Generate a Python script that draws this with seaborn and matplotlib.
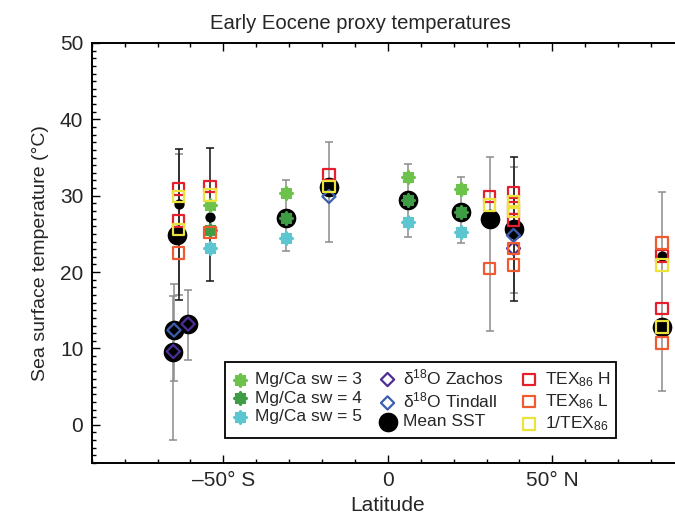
import matplotlib
matplotlib.use("Agg")
import matplotlib.pyplot as plt
import seaborn as sns
import pandas as pd
from matplotlib.ticker import MultipleLocator, FixedLocator

# ---------------- data ----------------
errbar_lat = [-63.6, -63.6, -65.0, -65.2, -60.7, -54.0, -30.9, -17.9, 6.0, 22.1, 30.9, 38.2, 38.2, 83.3]
errbar_lo = [16.4, 17.0, 5.7, -2.0, 8.5, 18.8, 22.7, 23.9, 24.6, 23.8, 12.3, 16.2, 17.2, 4.4]
errbar_hi = [36.1, 35.4, 18.5, 16.9, 17.6, 36.2, 32.0, 37.0, 34.2, 32.5, 35.1, 35.1, 33.8, 30.5]
errbar_kind = ["site", "proxy", "proxy", "proxy", "proxy", "site", "proxy", "proxy",
               "proxy", "proxy", "proxy", "site", "proxy", "proxy"]

mean_lat = [-64.0, -65.0, -65.2, -60.7, -30.9, -17.9, 6.0, 22.1, 30.9, 38.2, 83.3]
mean_sst = [24.8, 12.4, 9.6, 13.2, 27.1, 31.2, 29.5, 27.9, 27.0, 25.7, 12.8]
mean2_lat = [-63.6, -54.0, 83.3]
mean2_sst = [28.9, 27.2, 22.1]

mgca3_lat = [-54.0, -30.9, 6.0, 22.1]
mgca3_sst = [28.8, 30.4, 32.4, 30.9]
mgca4_lat = [-54.0, -30.9, 6.0, 22.1]
mgca4_sst = [25.5, 27.1, 29.5, 27.9]
mgca5_lat = [-54.0, -30.9, 6.0, 22.1]
mgca5_sst = [23.1, 24.4, 26.6, 25.3]

zachos_lat = [-65.2, -60.7, 38.2]
zachos_sst = [9.6, 13.2, 23.1]
tindall_lat = [-65.0, -17.9, 38.2]
tindall_sst = [12.4, 29.9, 24.8]

texh_lat = [-63.6, -63.6, -54.0, -17.9, 30.9, 38.2, 38.2, 38.2, 83.3, 83.3]
texh_sst = [30.9, 26.7, 31.2, 32.8, 29.9, 30.4, 28.4, 26.8, 22.1, 15.2]
texl_lat = [-63.6, -54.0, 30.9, 38.2, 38.2, 83.3, 83.3]
texl_sst = [22.5, 25.2, 20.5, 23.1, 20.9, 23.8, 10.7]
inv_lat = [-63.6, -63.6, -54.0, -17.9, 30.9, 38.2, 38.2, 83.3, 83.3]
inv_sst = [29.9, 25.6, 30.1, 31.2, 28.8, 29.2, 27.9, 20.9, 12.8]

xticks = [-50, 0, 50]
xticklabels = ["\u201350\u00b0 S", "0", "50\u00b0 N"]
yticks = [0, 10, 20, 30, 40, 50]

# ---------------- style ----------------
sns.set_theme(style="ticks")
plt.rcParams["font.family"] = ["Liberation Sans", "DejaVu Sans"]
plt.rcParams["mathtext.default"] = "regular"

W, H = 675, 529
fig = plt.figure(figsize=(W / 100, H / 100), dpi=100)
ax = fig.add_axes([91.7 / W, 1 - 463 / H, (684 - 91.7) / W, (463 - 43) / H])

# error bars
eb = pd.DataFrame({"lat": errbar_lat, "lo": errbar_lo, "hi": errbar_hi, "kind": errbar_kind})
kind_color = {"site": "#111111", "proxy": "#8c8c8c"}
for kind, sub in eb.groupby("kind"):
    mid = (sub["lo"] + sub["hi"]) / 2
    half = (sub["hi"] - sub["lo"]) / 2
    ax.errorbar(sub["lat"], mid, yerr=half, fmt="none", ecolor=kind_color[kind],
                elinewidth=1.1, capsize=3, capthick=1.1,
                zorder=2 if kind == "proxy" else 2.5)

# mean SST circles (underneath proxies)
sns.scatterplot(x=mean_lat, y=mean_sst, ax=ax, marker="o", s=200, color="black",
                edgecolor="black", linewidth=0, label="Mean SST", zorder=3)
sns.scatterplot(x=mean2_lat, y=mean2_sst, ax=ax, marker="o", s=55, color="black",
                edgecolor="black", linewidth=0, zorder=3)

star = (8, 2, 0)
sns.scatterplot(x=mgca3_lat, y=mgca3_sst, ax=ax, marker=star, s=60, color="#6cc24a",
                edgecolor="#6cc24a", linewidth=2.6, label="Mg/Ca sw = 3", zorder=4)
sns.scatterplot(x=mgca4_lat, y=mgca4_sst, ax=ax, marker=star, s=60, color="#3e9c45",
                edgecolor="#3e9c45", linewidth=2.6, label="Mg/Ca sw = 4", zorder=4)
sns.scatterplot(x=mgca5_lat, y=mgca5_sst, ax=ax, marker=star, s=60, color="#5cc6d0",
                edgecolor="#5cc6d0", linewidth=2.6, label="Mg/Ca sw = 5", zorder=4)

sns.scatterplot(x=zachos_lat, y=zachos_sst, ax=ax, marker="D", s=45, color="#4b2f96",
                facecolor="none", edgecolor="#4b2f96", linewidth=1.6,
                label=r"δ$^{18}$O Zachos", zorder=5)
sns.scatterplot(x=tindall_lat, y=tindall_sst, ax=ax, marker="D", s=45, color="#3b5fae",
                facecolor="none", edgecolor="#3b5fae", linewidth=1.6,
                label=r"δ$^{18}$O Tindall", zorder=5)

sns.scatterplot(x=texh_lat, y=texh_sst, ax=ax, marker="s", s=68, color="#e5202e",
                facecolor="none", edgecolor="#e5202e", linewidth=1.6,
                label=r"TEX$_{86}$ H", zorder=5)
sns.scatterplot(x=texl_lat, y=texl_sst, ax=ax, marker="s", s=68, color="#f05a30",
                facecolor="none", edgecolor="#f05a30", linewidth=1.6,
                label=r"TEX$_{86}$ L", zorder=5)
sns.scatterplot(x=inv_lat, y=inv_sst, ax=ax, marker="s", s=68, color="#ece23a",
                facecolor="none", edgecolor="#ece23a", linewidth=1.6,
                label=r"1/TEX$_{86}$", zorder=5)

# axes
ax.set_xlim(-90, 90)
ax.set_ylim(-5, 50)
ax.xaxis.set_major_locator(FixedLocator(xticks))
ax.set_xticklabels(xticklabels)
ax.xaxis.set_minor_locator(MultipleLocator(10))
ax.yaxis.set_major_locator(FixedLocator(yticks))
ax.yaxis.set_minor_locator(MultipleLocator(1))
ax.tick_params(which="both", direction="in", top=True, right=True, width=1.0,
               color="black", labelsize=15, pad=6)
ax.tick_params(which="major", length=6)
ax.tick_params(which="minor", length=3)
for sp in ax.spines.values():
    sp.set_linewidth(1.4)
    sp.set_color("black")
    sp.set_visible(True)

ax.set_xlabel("Latitude", fontsize=15, labelpad=4)
ax.set_ylabel("Sea surface temperature (\u00b0C)", fontsize=14, labelpad=8)
ax.set_title("Early Eocene proxy temperatures", fontsize=14.6, pad=10,
             x=(360 - 91.7) / 592.3)

order = ["Mg/Ca sw = 3", "Mg/Ca sw = 4", "Mg/Ca sw = 5",
         r"δ$^{18}$O Zachos", r"δ$^{18}$O Tindall", "Mean SST",
         r"TEX$_{86}$ H", r"TEX$_{86}$ L", r"1/TEX$_{86}$"]
handles, labels = ax.get_legend_handles_labels()
hmap = dict(zip(labels, handles))
leg = ax.legend([hmap[l] for l in order], order, ncol=3, loc="upper left",
                bbox_to_anchor=((225 - 91.7) / 592.3, (463 - 362) / 420),
                borderaxespad=0, fontsize=12.5, frameon=True, fancybox=False,
                edgecolor="black", framealpha=1, handletextpad=0.35,
                columnspacing=0.9, labelspacing=0.2, borderpad=0.3,
                handlelength=1.1)
leg.get_frame().set_linewidth(1.3)

fig.savefig("out.png", dpi=100)
